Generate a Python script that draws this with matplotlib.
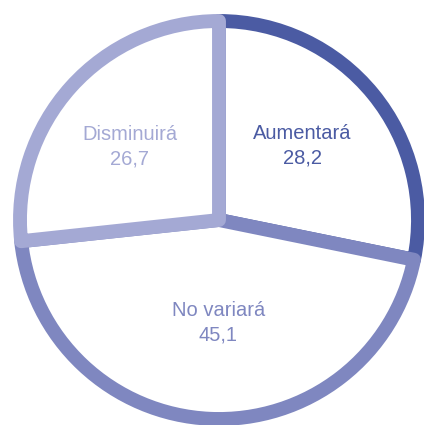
import numpy as np
import matplotlib.pyplot as plt

categories = ['Aumentará', 'No variará', 'Disminuirá']
values = [28.2, 45.1, 26.7]
colors = ['#4b5ba3', '#7f87c0', '#a4a9d4']

labels = [f'{c}\n{str(v).replace(".", ",")}' for c, v in zip(categories, values)]
label_dist = [0.56, 0.515, 0.58]

fig = plt.figure(figsize=(4.24, 4.25), dpi=100)
ax = fig.add_axes([0, 0, 1, 1])

cx, cy, r = 219, 205, 199
wedges, texts = ax.pie(
    values, labels=labels, startangle=90, counterclock=False,
    center=(cx, cy), radius=r,
    wedgeprops=dict(facecolor='white', linewidth=10, joinstyle='round'),
    textprops=dict(ha='center', va='center', fontsize=14.5,
                   family='Liberation Sans', linespacing=1.35),
)
for w, t, c, d in zip(wedges, texts, colors, label_dist):
    w.set_edgecolor(c)
    t.set_color(c)
    # nudge labels a bit further round, as in the original
    mid = np.deg2rad((w.theta1 + w.theta2) / 2 + 2.4)
    t.set_position((cx + d * r * np.cos(mid), cy + d * r * np.sin(mid)))

ax.set_xlim(0, 424)
ax.set_ylim(0, 425)
ax.set_aspect('equal')
ax.axis('off')

fig.savefig('out.png', dpi=100)
